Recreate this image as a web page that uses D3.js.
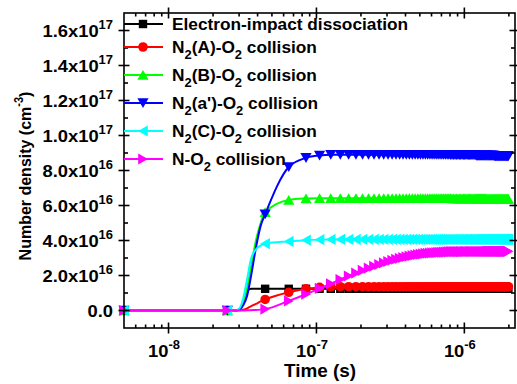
<!DOCTYPE html>
<html>
<head>
<meta charset="utf-8">
<script src="https://cdn.jsdelivr.net/npm/d3@7"></script>
<style>
  body { margin: 0; background: #fff; }
  svg text { font-family: "Liberation Sans", Arial, sans-serif; font-weight: bold; fill: #000; }
</style>
</head>
<body>
<svg id="chart" width="517" height="384"></svg>
<script>
// output times that carry a marker (units of 1e-8 s)
var markTimes = [
  0.5, 2.5, 4.5, 6.5, 8.5, 10.5, 12.5, 14.5, 16.5, 18.5,
  20.5, 22.5, 24.5, 26.5, 28.5, 30.5, 32.5, 34.5, 36.5, 38.5,
  40.5, 42.5, 44.5, 46.5, 48.5, 50.5, 52.5, 54.5, 56.5, 58.5,
  60.5, 62.5, 64.5, 66.5, 68.5, 70.5, 72.5, 74.5, 76.5, 78.5,
  80.5, 82.5, 84.5, 86.5, 88.5, 90.5, 92.5, 94.5, 96.5, 98.5,
  100.5, 102.5, 104.5, 106.5, 108.5, 110.5, 112.5, 114.5, 116.5, 118.5,
  120.5, 122.5, 124.5, 126.5, 128.5, 130.5, 132.5, 134.5, 136.5, 138.5,
  140.5, 142.5, 144.5, 146.5, 148.5, 150.5, 152.5, 154.5, 156.5, 158.5,
  160.5, 162.5, 164.5, 166.5, 168.5, 170.5, 172.5, 174.5, 176.5, 178.5,
  180.5, 182.5, 184.5, 186.5, 188.5, 190.5, 192.5, 194.5, 196.5, 198.5
];
// extra output times during the fast rise (no marker), units of 1e-8 s
var riseTimes = [2.8, 3.0, 3.2, 3.4, 3.6, 3.9, 4.2];

// number densities in units of 1e16 cm^-3
var electronImpact = [
  0, 0, 1.24, 1.24, 1.24, 1.24, 1.24, 1.24, 1.24, 1.24,
  1.24, 1.24, 1.24, 1.24, 1.24, 1.24, 1.24, 1.24, 1.24, 1.24,
  1.24, 1.24, 1.24, 1.24, 1.24, 1.24, 1.24, 1.24, 1.24, 1.24,
  1.24, 1.24, 1.24, 1.24, 1.24, 1.24, 1.24, 1.24, 1.24, 1.24,
  1.24, 1.24, 1.24, 1.24, 1.24, 1.24, 1.24, 1.24, 1.24, 1.24,
  1.24, 1.24, 1.24, 1.24, 1.24, 1.24, 1.24, 1.24, 1.24, 1.24,
  1.24, 1.24, 1.24, 1.24, 1.24, 1.24, 1.24, 1.24, 1.24, 1.24,
  1.24, 1.24, 1.24, 1.24, 1.24, 1.24, 1.24, 1.24, 1.24, 1.24,
  1.24, 1.24, 1.24, 1.24, 1.24, 1.24, 1.24, 1.24, 1.24, 1.24,
  1.24, 1.24, 1.24, 1.24, 1.24, 1.24, 1.24, 1.24, 1.24, 1.24
];
var electronImpactRise = [0, 0.05, 0.4, 1.1, 1.24, 1.24, 1.24];

var n2A = [
  0, 0, 0.63, 1.04, 1.24, 1.32, 1.35, 1.36, 1.36, 1.36,
  1.36, 1.36, 1.36, 1.36, 1.36, 1.36, 1.36, 1.36, 1.36, 1.36,
  1.36, 1.36, 1.36, 1.36, 1.36, 1.36, 1.36, 1.36, 1.36, 1.36,
  1.36, 1.36, 1.36, 1.36, 1.36, 1.36, 1.36, 1.36, 1.36, 1.36,
  1.36, 1.36, 1.36, 1.36, 1.36, 1.36, 1.36, 1.36, 1.36, 1.36,
  1.36, 1.36, 1.36, 1.36, 1.36, 1.36, 1.36, 1.36, 1.36, 1.36,
  1.36, 1.36, 1.36, 1.36, 1.36, 1.36, 1.36, 1.36, 1.36, 1.36,
  1.36, 1.36, 1.36, 1.36, 1.36, 1.36, 1.36, 1.36, 1.36, 1.36,
  1.36, 1.36, 1.36, 1.36, 1.36, 1.36, 1.36, 1.36, 1.36, 1.36,
  1.36, 1.36, 1.36, 1.36, 1.36, 1.36, 1.36, 1.36, 1.36, 1.36
];
var n2ARise = [0, 0.01, 0.04, 0.12, 0.24, 0.38, 0.52];

var n2B = [
  0, 0, 5.62, 6.32, 6.4, 6.42, 6.42, 6.42, 6.42, 6.42,
  6.42, 6.42, 6.42, 6.42, 6.42, 6.42, 6.42, 6.42, 6.42, 6.42,
  6.42, 6.42, 6.42, 6.42, 6.42, 6.42, 6.42, 6.42, 6.42, 6.42,
  6.42, 6.42, 6.42, 6.42, 6.42, 6.42, 6.42, 6.42, 6.42, 6.42,
  6.42, 6.4, 6.4, 6.4, 6.4, 6.4, 6.4, 6.4, 6.4, 6.4,
  6.4, 6.4, 6.4, 6.4, 6.4, 6.4, 6.4, 6.4, 6.4, 6.4,
  6.4, 6.4, 6.4, 6.4, 6.4, 6.4, 6.4, 6.4, 6.4, 6.4,
  6.4, 6.38, 6.38, 6.38, 6.38, 6.38, 6.38, 6.38, 6.38, 6.38,
  6.38, 6.38, 6.38, 6.38, 6.38, 6.38, 6.38, 6.38, 6.38, 6.38,
  6.38, 6.38, 6.38, 6.38, 6.38, 6.38, 6.38, 6.38, 6.38, 6.38
];
var n2BRise = [0, 0.08, 0.5, 1.3, 2.4, 4.0, 5.0];

var n2aPrime = [
  0, 0, 5.5, 8.2, 8.72, 8.86, 8.9, 8.9, 8.9, 8.9,
  8.9, 8.9, 8.9, 8.9, 8.9, 8.9, 8.9, 8.9, 8.9, 8.9,
  8.9, 8.9, 8.9, 8.9, 8.9, 8.9, 8.9, 8.9, 8.9, 8.9,
  8.9, 8.9, 8.9, 8.9, 8.9, 8.9, 8.9, 8.9, 8.9, 8.9,
  8.88, 8.88, 8.88, 8.88, 8.88, 8.88, 8.88, 8.88, 8.88, 8.88,
  8.88, 8.88, 8.88, 8.88, 8.88, 8.88, 8.88, 8.88, 8.88, 8.88,
  8.85, 8.85, 8.85, 8.85, 8.85, 8.85, 8.85, 8.85, 8.85, 8.85,
  8.85, 8.85, 8.85, 8.85, 8.85, 8.85, 8.85, 8.85, 8.85, 8.85,
  8.82, 8.82, 8.82, 8.82, 8.82, 8.82, 8.82, 8.82, 8.82, 8.82,
  8.82, 8.82, 8.82, 8.82, 8.82, 8.82, 8.82, 8.82, 8.82, 8.82
];
var n2aPrimeRise = [0, 0.05, 0.3, 0.85, 1.9, 3.6, 4.85];

var n2C = [
  0, 0, 3.82, 3.95, 4.02, 4.05, 4.06, 4.06, 4.06, 4.06,
  4.06, 4.06, 4.06, 4.06, 4.06, 4.06, 4.06, 4.06, 4.06, 4.06,
  4.06, 4.06, 4.06, 4.06, 4.06, 4.06, 4.06, 4.06, 4.06, 4.06,
  4.06, 4.06, 4.06, 4.06, 4.06, 4.06, 4.06, 4.06, 4.06, 4.06,
  4.06, 4.06, 4.06, 4.06, 4.06, 4.06, 4.06, 4.06, 4.06, 4.06,
  4.06, 4.06, 4.06, 4.06, 4.06, 4.06, 4.06, 4.06, 4.06, 4.06,
  4.06, 4.06, 4.06, 4.06, 4.06, 4.06, 4.06, 4.06, 4.06, 4.06,
  4.06, 4.06, 4.06, 4.06, 4.06, 4.06, 4.06, 4.06, 4.06, 4.06,
  4.06, 4.06, 4.06, 4.06, 4.06, 4.06, 4.06, 4.06, 4.06, 4.06,
  4.06, 4.06, 4.06, 4.06, 4.06, 4.06, 4.06, 4.06, 4.06, 4.06
];
var n2CRise = [0, 0.1, 0.7, 1.8, 2.9, 3.5, 3.72];

var nO2 = [
  0, 0, 0.08, 0.55, 0.93, 1.26, 1.53, 1.77, 1.97, 2.14,
  2.29, 2.42, 2.53, 2.63, 2.72, 2.8, 2.87, 2.93, 2.98, 3.03,
  3.07, 3.11, 3.14, 3.17, 3.2, 3.22, 3.24, 3.26, 3.27, 3.28,
  3.29, 3.3, 3.31, 3.32, 3.33, 3.33, 3.34, 3.34, 3.35, 3.35,
  3.36, 3.36, 3.36, 3.36, 3.36, 3.36, 3.36, 3.36, 3.36, 3.36,
  3.37, 3.37, 3.37, 3.37, 3.37, 3.37, 3.37, 3.37, 3.37, 3.37,
  3.37, 3.37, 3.37, 3.37, 3.37, 3.37, 3.37, 3.37, 3.37, 3.37,
  3.38, 3.38, 3.38, 3.38, 3.38, 3.38, 3.38, 3.38, 3.38, 3.38,
  3.38, 3.38, 3.38, 3.38, 3.38, 3.38, 3.38, 3.38, 3.38, 3.38,
  3.38, 3.38, 3.38, 3.38, 3.38, 3.38, 3.38, 3.38, 3.38, 3.38
];
var nO2Rise = [0, 0, 0.005, 0.01, 0.02, 0.03, 0.05];

// legend labels: [main, subscript, main, subscript, main ...]
var seriesLabels = [
  ["Electron-impact dissociation"],
  ["N", "2", "(A)-O", "2", " collision"],
  ["N", "2", "(B)-O", "2", " collision"],
  ["N", "2", "(a')-O", "2", " collision"],
  ["N", "2", "(C)-O", "2", " collision"],
  ["N-O", "2", " collision"]
];
var seriesValues = [electronImpact, n2A, n2B, n2aPrime, n2C, nO2];
var seriesRise = [electronImpactRise, n2ARise, n2BRise, n2aPrimeRise, n2CRise, nO2Rise];
var seriesColors = ["#000000", "#ff0000", "#00ff00", "#0000ff", "#00ffff", "#ff00ff"];
var seriesShapes = ["square", "circle", "up", "down", "left", "right"];

var xMajorTicks = [1e-8, 1e-7, 1e-6];
var yMajorTicks = [0, 2e16, 4e16, 6e16, 8e16, 1e17, 1.2e17, 1.4e17, 1.6e17];

// layout
var pLeft = 124, pRight = 515, pTop = 13, pBottom = 328;
var stretch = 1.08;

var svg = d3.select("#chart");

var x = d3.scaleLog().domain([5e-9, 2.2e-6]).range([pLeft, pRight]);
var y = d3.scaleLinear().domain([-1e16, 1.7e17]).range([pBottom, pTop]);

function markerPath(shape) {
  switch (shape) {
    case "square": return "M-4.2,-4.2H4.2V4.2H-4.2Z";
    case "circle": return "M-4.8,0A4.8,4.8 0 1,0 4.8,0A4.8,4.8 0 1,0 -4.8,0Z";
    case "up": return "M0,-5L5.6,4.8L-5.6,4.8Z";
    case "down": return "M0,5L5.6,-4.8L-5.6,-4.8Z";
    case "left": return "M-5,0L4.8,-5.6L4.8,5.6Z";
    case "right": return "M5,0L-4.8,-5.6L-4.8,5.6Z";
  }
}

var line = d3.line()
  .x(function(d) { return x(d.t); })
  .y(function(d) { return y(d.v); })
  .curve(d3.curveMonotoneX);

var plot = svg.append("g");

seriesValues.forEach(function(vals, s) {
  var marks = markTimes.map(function(t, i) { return { t: t * 1e-8, v: vals[i] * 1e16 }; });
  var rise = riseTimes.map(function(t, i) { return { t: t * 1e-8, v: seriesRise[s][i] * 1e16 }; });
  var pts = marks.concat(rise).sort(function(a, b) { return a.t - b.t; });

  plot.append("path")
    .datum(pts)
    .attr("d", line)
    .attr("fill", "none")
    .attr("stroke", seriesColors[s])
    .attr("stroke-width", 2);

  plot.selectAll(".m" + s)
    .data(marks)
    .enter().append("path")
    .attr("class", "m" + s)
    .attr("transform", function(d) { return "translate(" + x(d.t) + "," + y(d.v) + ")"; })
    .attr("d", markerPath(seriesShapes[s]))
    .attr("fill", seriesColors[s]);
});

// frame
var axes = svg.append("g").attr("stroke", "#000").attr("stroke-width", 1.6);
axes.append("rect")
  .attr("x", pLeft).attr("y", pTop)
  .attr("width", pRight - pLeft).attr("height", pBottom - pTop)
  .attr("fill", "none");

// x ticks (bottom and top)
x.ticks().forEach(function(v) {
  var px = x(v);
  if (px <= pLeft + 1 || px >= pRight - 1) return;
  var major = xMajorTicks.some(function(m) { return Math.abs(m - v) / m < 1e-6; });
  if (major) {
    axes.append("line").attr("x1", px).attr("x2", px).attr("y1", pBottom - 5.5).attr("y2", pBottom + 5.5);
    axes.append("line").attr("x1", px).attr("x2", px).attr("y1", pTop - 5.5).attr("y2", pTop + 5.5);
  } else {
    axes.append("line").attr("x1", px).attr("x2", px).attr("y1", pBottom - 3.5).attr("y2", pBottom);
    axes.append("line").attr("x1", px).attr("x2", px).attr("y1", pTop).attr("y2", pTop + 3.5);
  }
});

// y ticks (left and right)
y.ticks(18).forEach(function(v) {
  var py = y(v);
  if (py <= pTop + 1 || py >= pBottom - 1) return;
  var major = yMajorTicks.indexOf(v) >= 0 || Math.abs(v) < 1;
  if (major) {
    axes.append("line").attr("y1", py).attr("y2", py).attr("x1", pLeft - 5.5).attr("x2", pLeft + 5.5);
    axes.append("line").attr("y1", py).attr("y2", py).attr("x1", pRight - 5.5).attr("x2", pRight + 5.5);
  } else {
    axes.append("line").attr("y1", py).attr("y2", py).attr("x1", pLeft).attr("x2", pLeft + 4);
    axes.append("line").attr("y1", py).attr("y2", py).attr("x1", pRight - 4).attr("x2", pRight);
  }
});

// tick labels
function stretchedText(px, py, anchor, size) {
  return svg.append("g").attr("transform", "translate(" + px + "," + py + ")")
    .append("text")
    .attr("transform", "scale(" + stretch + ",1)")
    .attr("text-anchor", anchor)
    .style("font-size", size + "px");
}

xMajorTicks.forEach(function(v) {
  var t = stretchedText(x(v) - 4.5, 357, "middle", 17);
  t.append("tspan").text("10");
  t.append("tspan").attr("dy", -8).style("font-size", "12px").text(Math.round(Math.log10(v)));
});

yMajorTicks.forEach(function(v) {
  var t = stretchedText(113, y(v) + 6, "end", 17);
  if (v === 0) { t.text("0.0"); return; }
  var e = Math.floor(Math.log10(v) + 1e-9);
  t.append("tspan").text((v / Math.pow(10, e)).toFixed(1) + "x10");
  t.append("tspan").attr("dy", -8).style("font-size", "12px").text(e);
});

// axis titles
stretchedText(320, 377, "middle", 17.5).text("Time (s)");

var yt = svg.append("g").attr("transform", "translate(31,176) rotate(-90)")
  .append("text")
  .attr("transform", "scale(1," + stretch + ")")
  .attr("text-anchor", "middle")
  .style("font-size", "16px");
yt.append("tspan").text("Number density (cm");
yt.append("tspan").attr("dy", -7).style("font-size", "11px").text("-3");
yt.append("tspan").attr("dy", 7).text(")");

// legend
var legend = svg.append("g");
seriesLabels.forEach(function(parts, i) {
  var ly = i === 0 ? 24 : 47 + 28 * (i - 1);
  legend.append("line")
    .attr("x1", pLeft).attr("x2", 163).attr("y1", ly).attr("y2", ly)
    .attr("stroke", seriesColors[i]).attr("stroke-width", 2);
  legend.append("path")
    .attr("transform", "translate(143," + ly + ")")
    .attr("d", markerPath(seriesShapes[i]))
    .attr("fill", seriesColors[i]);
  var t = stretchedText(172, ly + 6, "start", 16);
  parts.forEach(function(p, j) {
    if (j % 2 === 1) {
      t.append("tspan").attr("dy", 6).style("font-size", "12px").text(p);
    } else {
      t.append("tspan").attr("dy", j === 0 ? 0 : -6).text(p);
    }
  });
});
</script>
</body>
</html>
